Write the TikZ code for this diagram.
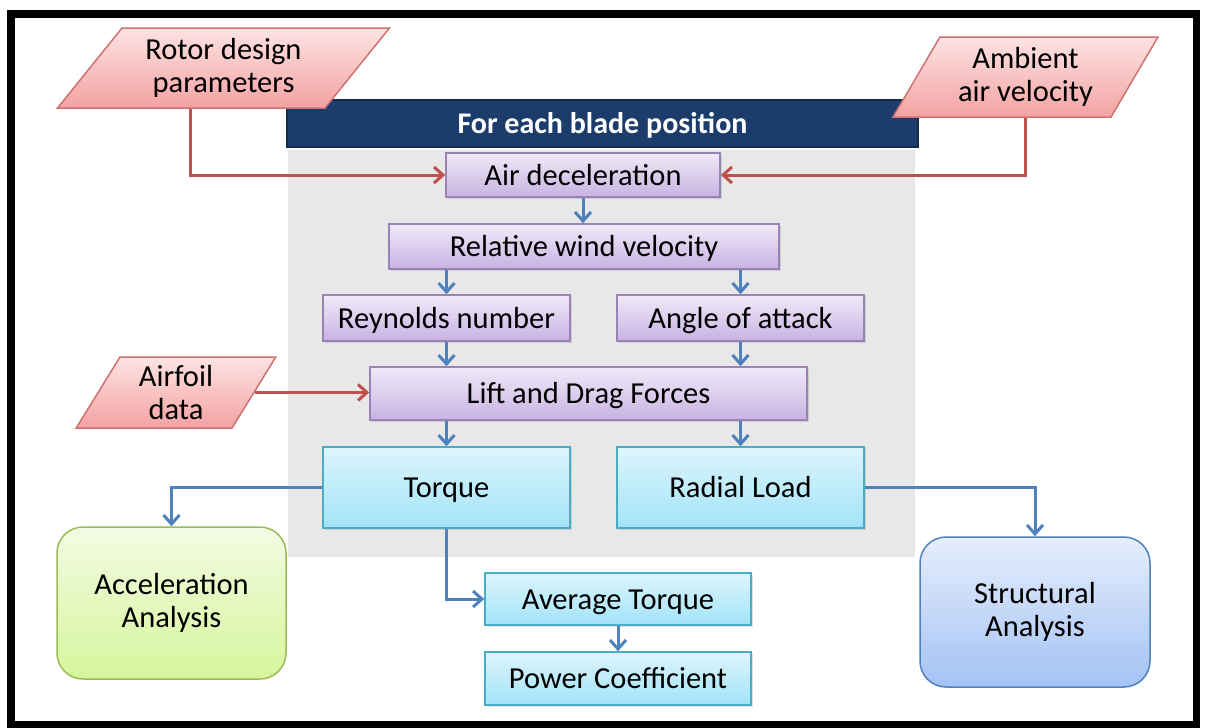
\documentclass[tikz,border=0pt]{standalone}
\usepackage{fontspec}
\setmainfont{Carlito}
\usetikzlibrary{arrows.meta,positioning,shapes.geometric,shadows}
\definecolor{inred}{HTML}{C0504D}
\definecolor{inredtop}{HTML}{FDE3E3}
\definecolor{inredbot}{HTML}{F4A2A2}
\definecolor{steplilac}{HTML}{8064A2}
\definecolor{steplilactop}{HTML}{F0EAF8}
\definecolor{steplilacbot}{HTML}{C8B2E2}
\definecolor{outcyan}{HTML}{4BACC6}
\definecolor{outcyantop}{HTML}{DDF5FC}
\definecolor{outcyanbot}{HTML}{A2E3F8}
\definecolor{accgreen}{HTML}{9BBB59}
\definecolor{accgreentop}{HTML}{F3FBE3}
\definecolor{accgreenbot}{HTML}{D6F59C}
\definecolor{flowblue}{HTML}{4F81BD}
\definecolor{structtop}{HTML}{E6EEFC}
\definecolor{structbot}{HTML}{A4C2F4}
\definecolor{navy}{HTML}{1C3D6B}
\definecolor{panelgray}{HTML}{E8E8E8}

\begin{document}
\begin{tikzpicture}[x=1pt,y=-1pt,
  font=\fontsize{30.5}{33}\selectfont,
  inbox/.style={trapezium, trapezium stretches=true, draw=inred!80, line width=1.5pt,
    top color=inredtop, bottom color=inredbot, align=center, inner sep=0pt},
  stepbox/.style={rectangle, draw=steplilac!80, line width=1.5pt,
    top color=steplilactop, bottom color=steplilacbot, inner sep=0pt,
    text height=26pt, text depth=6pt,
    drop shadow={shadow xshift=2pt, shadow yshift=-2pt, opacity=.25}},
  outbox/.style={rectangle, draw=outcyan, line width=1.5pt,
    top color=outcyantop, bottom color=outcyanbot, inner sep=0pt,
    text height=26pt, text depth=6pt,
    drop shadow={shadow xshift=2pt, shadow yshift=-2pt, opacity=.25}},
  endbox/.style={rectangle, rounded corners=26pt, line width=1.5pt, align=center, inner sep=0pt},
  redline/.style={draw=inred, line width=3pt, -{Straight Barb[length=9pt,width=16pt]}},
  blueline/.style={draw=flowblue, line width=3pt, -{Straight Barb[length=9pt,width=16pt]}}]
  \useasboundingbox (0,0) rectangle (1205,728);
  \fill[white] (0,0) rectangle (1205,728);

  % frame and loop panel
  \draw[line width=7.5pt] (11,14) rectangle (1196.5,725);
  \node[fill=panelgray, minimum width=627pt, minimum height=407pt, inner sep=0pt] (panel) at (601.5,353.5) {};
  \node[fill=navy, draw=navy!70!black, line width=2pt, minimum width=631pt, minimum height=47pt,
    inner sep=0pt, text height=26pt, text depth=6pt, text=white,
    font=\fontsize{30}{33}\selectfont\bfseries] (header) at (602.5,123.5) {For each blade position};

  % inputs
  \node[inbox, trapezium left angle=50, trapezium right angle=130,
    minimum width=333pt, minimum height=80pt] (rotor) at (223.5,68) {Rotor design\\parameters};
  \node[inbox, trapezium left angle=58, trapezium right angle=122,
    minimum width=265pt, minimum height=80pt] (ambient) at (1025.5,77) {Ambient\\air velocity};
  \node[inbox, trapezium left angle=62, trapezium right angle=118,
    minimum width=200pt, minimum height=71pt] (airfoil) at (176,392.5) {Airfoil\\data};

  % steps for each blade position
  \node[stepbox, minimum width=274pt, minimum height=44pt] (aird) at (583,175) {Air deceleration};
  \node[stepbox, minimum width=390pt, minimum height=45pt] (relw) at (584,246.5) {Relative wind velocity};
  \node[stepbox, minimum width=247pt, minimum height=46pt] (reyn) at (446.5,318) {Reynolds number};
  \node[stepbox, minimum width=247pt, minimum height=46pt] (aoa) at (740.5,318) {Angle of attack};
  \node[stepbox, minimum width=437pt, minimum height=53pt] (lift) at (588.5,393.5) {Lift and Drag Forces};
  \node[outbox, minimum width=247pt, minimum height=81pt] (torque) at (446.5,487.5) {Torque};
  \node[outbox, minimum width=247pt, minimum height=81pt] (radial) at (740.5,487.5) {Radial Load};

  % results
  \node[outbox, minimum width=266pt, minimum height=52pt] (avgt) at (618,599) {Average Torque};
  \node[outbox, minimum width=266pt, minimum height=53pt] (power) at (618,678.5) {Power Coefficient};
  \node[endbox, draw=accgreen, top color=accgreentop, bottom color=accgreenbot,
    minimum width=229pt, minimum height=152pt] (accel) at (171.5,603) {Acceleration\\Analysis};
  \node[endbox, draw=flowblue, top color=structtop, bottom color=structbot,
    minimum width=230pt, minimum height=150pt] (struct) at (1035,612) {Structural\\Analysis};

  % red connectors
  \draw[redline] ([xshift=-33.5pt]rotor.south) |- (aird.west);
  \draw[redline] (ambient.south) |- (aird.east);
  \draw[redline] (airfoil.east) -- (airfoil.east -| lift.west);

  % blue connectors
  \draw[blueline] (aird.south) -- (aird.south |- relw.north);
  \draw[blueline] (reyn.north |- relw.south) -- (reyn.north);
  \draw[blueline] (aoa.north |- relw.south) -- (aoa.north);
  \draw[blueline] (reyn.south) -- (reyn.south |- lift.north);
  \draw[blueline] (aoa.south) -- (aoa.south |- lift.north);
  \draw[blueline] (torque.north |- lift.south) -- (torque.north);
  \draw[blueline] (radial.north |- lift.south) -- (radial.north);
  \draw[blueline] (torque.west) -| (accel.north);
  \draw[blueline] (radial.east) -| (struct.north);
  \draw[blueline] (torque.south) |- (avgt.west);
  \draw[blueline] (avgt.south) -- (power.north);
\end{tikzpicture}
\end{document}
